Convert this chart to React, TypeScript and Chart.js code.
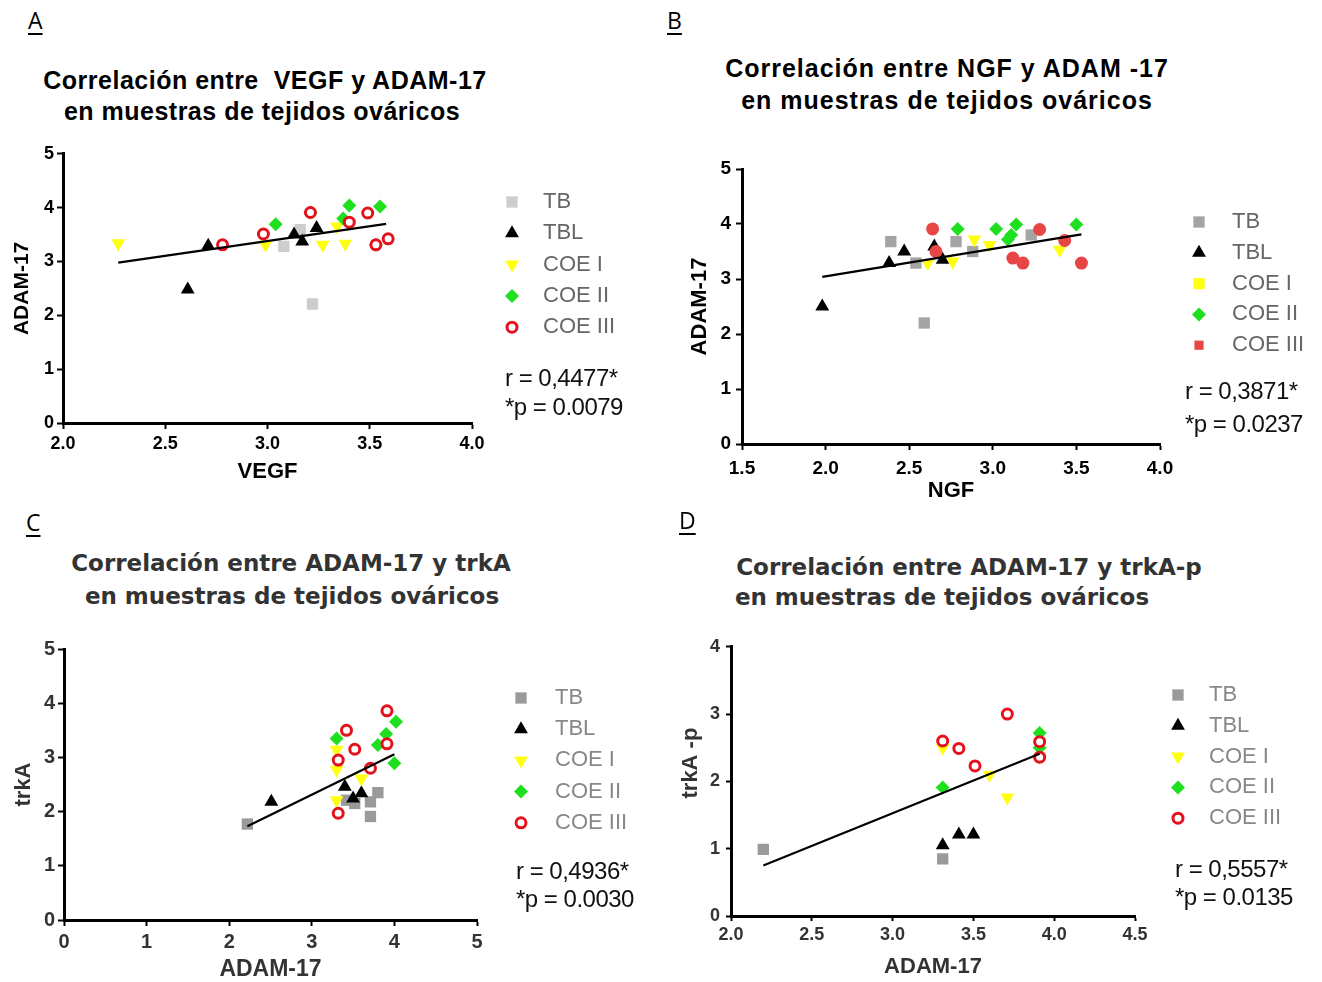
import React, { useEffect, useRef } from 'react';
import { Chart, registerables } from 'chart.js';
import { drawPoint } from 'chart.js/helpers';

Chart.register(...registerables);

type P = [number, number];

const groups = ['TB', 'TBL', 'COE I', 'COE II', 'COE III'];

// Panel A: VEGF vs ADAM-17
const aTB: P[] = [[3.08, 3.28], [3.16, 3.59], [3.22, 2.21]];
const aTBL: P[] = [[2.61, 2.48], [2.71, 3.29], [3.13, 3.5], [3.17, 3.37], [3.24, 3.62]];
const aCOE1: P[] = [[2.27, 3.34], [2.99, 3.31], [3.27, 3.31], [3.38, 3.33], [3.34, 3.65]];
const aCOE2: P[] = [[3.04, 3.69], [3.21, 3.91], [3.37, 3.8], [3.4, 4.04], [3.53, 3.31], [3.55, 4.02]];
const aCOE3: P[] = [[2.78, 3.31], [2.98, 3.51], [3.21, 3.91], [3.4, 3.73], [3.49, 3.9], [3.53, 3.31], [3.59, 3.42]];
const aFit: P[] = [[2.27, 2.98], [3.58, 3.7]];
const aXTicks = [2.0, 2.5, 3.0, 3.5, 4.0];
const aYTicks = [0, 1, 2, 3, 4, 5];

// Panel B: NGF vs ADAM-17
const bTB: P[] = [[2.39, 3.68], [2.54, 3.29], [2.59, 2.2], [2.78, 3.68], [2.88, 3.5], [3.23, 3.8]];
const bTBL: P[] = [[1.98, 2.5], [2.38, 3.29], [2.47, 3.5], [2.65, 3.59], [2.7, 3.35]];
const bCOE1: P[] = [[2.61, 3.29], [2.76, 3.32], [2.89, 3.72], [2.98, 3.62], [3.4, 3.53]];
const bCOE2: P[] = [[2.79, 3.91], [3.02, 3.91], [3.09, 3.72], [3.11, 3.8], [3.14, 3.99], [3.5, 3.99]];
const bCOE3: P[] = [[2.64, 3.91], [2.66, 3.5], [3.12, 3.38], [3.18, 3.29], [3.28, 3.9], [3.43, 3.7], [3.53, 3.29]];
const bFit: P[] = [[1.98, 3.04], [3.53, 3.81]];
const bXTicks = [1.5, 2.0, 2.5, 3.0, 3.5, 4.0];
const bYTicks = [0, 1, 2, 3, 4, 5];

// Panel C: ADAM-17 vs trkA
const cTB: P[] = [[2.22, 1.77], [3.42, 2.21], [3.52, 2.15], [3.71, 1.91], [3.71, 2.18], [3.8, 2.35]];
const cTBL: P[] = [[2.51, 2.18], [3.4, 2.46], [3.5, 2.24], [3.6, 2.34]];
const cCOE1: P[] = [[3.3, 3.14], [3.3, 2.77], [3.3, 2.21], [3.6, 2.61]];
const cCOE2: P[] = [[3.3, 3.35], [3.8, 3.23], [3.9, 3.43], [4.02, 3.66], [4.0, 2.89]];
const cCOE3: P[] = [[3.32, 2.95], [3.32, 1.97], [3.42, 3.5], [3.52, 3.15], [3.71, 2.8], [3.91, 3.86], [3.91, 3.25]];
const cFit: P[] = [[2.22, 1.73], [4.0, 3.06]];
const cXTicks = [0, 1, 2, 3, 4, 5];
const cYTicks = [0, 1, 2, 3, 4, 5];

// Panel D: ADAM-17 vs trkA-p
const dTB: P[] = [[2.2, 0.99], [3.31, 0.85]];
const dTBL: P[] = [[3.31, 1.05], [3.41, 1.21], [3.5, 1.21]];
const dCOE1: P[] = [[3.31, 2.5], [3.6, 2.1], [3.71, 1.76]];
const dCOE2: P[] = [[3.31, 1.91], [3.91, 2.72], [3.91, 2.5]];
const dCOE3: P[] = [[3.31, 2.6], [3.41, 2.49], [3.51, 2.23], [3.71, 3.0], [3.91, 2.59], [3.91, 2.36]];
const dFit: P[] = [[2.2, 0.75], [3.91, 2.41]];
const dXTicks = [2.0, 2.5, 3.0, 3.5, 4.0, 4.5];
const dYTicks = [0, 1, 2, 3, 4];

const rValues = ['0,4477', '0,3871', '0,4936', '0,5557'];
const pValues = ['0.0079', '0.0237', '0.0030', '0.0135'];

// ---------- styles ----------
const stylesAC = (gray: string) => [
  { style: 'rect', r: 8, fill: gray },
  { style: 'triangle', r: 8, fill: '#000000' },
  { style: 'triangle', rot: 180, r: 8, fill: '#ffff10' },
  { style: 'rectRot', r: 7, fill: '#1fe01f' },
  { style: 'circle', r: 5, fill: '#ffffff', stroke: '#e3121c', bw: 3 },
];
const stylesB = [
  { style: 'rect', r: 8, fill: '#a4a4a4' },
  { style: 'triangle', r: 8, fill: '#000000' },
  { style: 'triangle', rot: 180, r: 8, fill: '#ffff10', legend: { style: 'rect' } },
  { style: 'rectRot', r: 7, fill: '#1fe01f' },
  { style: 'circle', r: 6.5, fill: '#e84545', legend: { style: 'rect' } },
];

function buildSets(series: P[][], fit: P[], styles: any[]) {
  const sets: any[] = series.map((s, i) => ({
    label: groups[i],
    data: s.map(([x, y]) => ({ x, y })),
    pointStyle: styles[i].style,
    pointRotation: styles[i].rot || 0,
    pointRadius: styles[i].r,
    pointBorderWidth: styles[i].bw || 0,
    backgroundColor: styles[i].fill,
    borderColor: styles[i].stroke || styles[i].fill,
    showLine: false,
    order: 6 - i,
    inLegend: true,
    legendStyle: styles[i].legend,
  }));
  sets.push({
    label: 'fit',
    data: fit.map(([x, y]) => ({ x, y })),
    showLine: true,
    borderColor: '#000000',
    borderWidth: 2.2,
    pointRadius: 0,
    order: 1,
    inLegend: false,
  });
  return sets;
}

const panelLegend = {
  id: 'panelLegend',
  afterDraw(chart: any, _a: any, opts: any) {
    if (!opts || opts.markerX == null) return;
    const ctx = chart.ctx;
    ctx.save();
    const sets = chart.data.datasets.filter((d: any) => d.inLegend);
    sets.forEach((d: any, i: number) => {
      const y = opts.y0 + i * opts.dy;
      const ls = d.legendStyle || {};
      const bw = ls.bw ?? d.pointBorderWidth;
      ctx.fillStyle = ls.fill || d.backgroundColor;
      ctx.strokeStyle = d.borderColor;
      ctx.lineWidth = bw;
      drawPoint(
        ctx,
        {
          pointStyle: ls.style || d.pointStyle,
          rotation: ls.rot ?? d.pointRotation,
          radius: ls.r ?? d.pointRadius,
          borderWidth: bw,
        } as any,
        opts.markerX,
        y
      );
      ctx.fillStyle = opts.color;
      ctx.font = opts.font;
      ctx.textBaseline = 'middle';
      ctx.textAlign = 'left';
      ctx.fillText(d.label, opts.textX, y);
    });
    ctx.restore();
  },
};

function axis(o: any) {
  return {
    type: 'linear',
    min: o.min,
    max: o.max,
    afterBuildTicks: (s: any) => {
      s.ticks = o.ticks.map((v: number) => ({ value: v }));
    },
    afterFit: (s: any) => {
      if (o.horizontal) s.height = o.size;
      else s.width = o.size;
    },
    ticks: {
      callback: (v: any) => Number(v).toFixed(o.dec),
      font: { family: 'Liberation Sans', size: o.tickSize, weight: 'bold' },
      color: o.tickColor,
      padding: o.tickPad,
      maxRotation: 0,
      minRotation: 0,
      autoSkip: false,
    },
    grid: {
      drawOnChartArea: false,
      drawTicks: true,
      tickLength: o.tl,
      tickColor: '#000000',
      tickWidth: 2,
    },
    border: { display: true, color: '#000000', width: 3 },
    title: {
      display: true,
      text: o.title,
      font: { family: 'Liberation Sans', size: o.titleSize, weight: 'bold', lineHeight: o.titleLH || 1.2 },
      color: o.titleColor,
      padding: o.titlePad,
    },
  };
}

const panels: any[] = [
  {
    left: 0, top: 140, w: 660, h: 350, padTop: 12, padRight: 188,
    sets: buildSets([aTB, aTBL, aCOE1, aCOE2, aCOE3], aFit, stylesAC('#cdcdcd')),
    x: { horizontal: true, size: 67, min: 2, max: 4, ticks: aXTicks, dec: 1, tickSize: 18, tickColor: '#000', tickPad: 4, tl: 6, title: 'VEGF', titleSize: 22, titleColor: '#000', titlePad: { top: 0, bottom: 4.8 } },
    y: { horizontal: false, size: 63, min: 0, max: 5, ticks: aYTicks, dec: 0, tickSize: 18, tickColor: '#000', tickPad: 3, tl: 6, title: 'ADAM-17', titleSize: 21, titleColor: '#000', titlePad: { top: 9.4, bottom: 0 } },
    legend: { markerX: 512, textX: 543, y0: 202, dy: 31.3, color: '#666666' },
  },
  {
    left: 660, top: 140, w: 662, h: 370, padTop: 29, padRight: 162,
    sets: buildSets([bTB, bTBL, bCOE1, bCOE2, bCOE3], bFit, stylesB),
    x: { horizontal: true, size: 66, min: 1.5, max: 4, ticks: bXTicks, dec: 1, tickSize: 19, tickColor: '#000', tickPad: 7, tl: 6, title: 'NGF', titleSize: 22, titleColor: '#000', titlePad: { top: 0, bottom: 5.8 } },
    y: { horizontal: false, size: 82, min: 0, max: 5, ticks: bYTicks, dec: 0, tickSize: 19, tickColor: '#000', tickPad: 5, tl: 6, title: 'ADAM-17', titleSize: 22, titleColor: '#000', titlePad: { top: 26.8, bottom: 0 } },
    legend: { markerX: 1199, textX: 1232, y0: 222, dy: 30.8, color: '#666666' },
  },
  {
    left: 0, top: 630, w: 660, h: 352, padTop: 19, padRight: 183,
    sets: buildSets([cTB, cTBL, cCOE1, cCOE2, cCOE3], cFit, stylesAC('#9a9a9a')),
    x: { horizontal: true, size: 62, min: 0, max: 5, ticks: cXTicks, dec: 0, tickSize: 20, tickColor: '#333', tickPad: 4, tl: 6, title: 'ADAM-17', titleSize: 23, titleLH: 1, titleColor: '#333', titlePad: { top: 0, bottom: 0.5 } },
    y: { horizontal: false, size: 64, min: 0, max: 5, ticks: cYTicks, dec: 0, tickSize: 20, tickColor: '#333', tickPad: 3, tl: 6, title: 'trkA', titleSize: 22, titleColor: '#333', titlePad: { top: 10.3, bottom: 0 } },
    legend: { markerX: 521, textX: 555, y0: 698, dy: 31.2, color: '#888888' },
  },
  {
    left: 660, top: 630, w: 662, h: 352, padTop: 15, padRight: 187,
    sets: buildSets([dTB, dTBL, dCOE1, dCOE2, dCOE3], dFit, stylesAC('#9a9a9a')),
    x: { horizontal: true, size: 66, min: 2, max: 4.5, ticks: dXTicks, dec: 1, tickSize: 18, tickColor: '#333', tickPad: 3, tl: 5, title: 'ADAM-17', titleSize: 22, titleColor: '#333', titlePad: { top: 0, bottom: 1.8 } },
    y: { horizontal: false, size: 71, min: 0, max: 4, ticks: dYTicks, dec: 0, tickSize: 18, tickColor: '#333', tickPad: 6, tl: 5, title: '      trkA -p', titleSize: 22, titleColor: '#333', titlePad: { top: 17.8, bottom: 0 } },
    legend: { markerX: 1178, textX: 1209, y0: 695, dy: 30.8, color: '#888888' },
  },
];

function PanelChart({ cfg }: { cfg: any }) {
  const ref = useRef<HTMLCanvasElement>(null);
  useEffect(() => {
    const chart = new Chart(ref.current as HTMLCanvasElement, {
      type: 'scatter',
      data: { datasets: cfg.sets },
      plugins: [panelLegend as any],
      options: {
        animation: false,
        responsive: false,
        maintainAspectRatio: false,
        events: [],
        layout: { padding: { top: cfg.padTop, right: cfg.padRight, left: 0, bottom: 0 } },
        plugins: {
          legend: { display: false },
          tooltip: { enabled: false },
          panelLegend: {
            markerX: cfg.legend.markerX - cfg.left,
            textX: cfg.legend.textX - cfg.left,
            y0: cfg.legend.y0 - cfg.top,
            dy: cfg.legend.dy,
            color: cfg.legend.color,
            font: '22px "Liberation Sans", Arial, sans-serif',
          },
        } as any,
        scales: { x: axis(cfg.x) as any, y: axis(cfg.y) as any },
      },
    });
    return () => chart.destroy();
  }, []);
  return (
    <canvas
      ref={ref}
      width={cfg.w}
      height={cfg.h}
      style={{ position: 'absolute', left: cfg.left, top: cfg.top, width: cfg.w, height: cfg.h }}
    />
  );
}

const titleLines = [
  { text: 'Correlación entre  VEGF y ADAM-17', cx: 265, cy: 80, kind: 'ab', ls: 0.5 },
  { text: 'en muestras de tejidos ováricos', cx: 262, cy: 111, kind: 'ab', ls: 0.5 },
  { text: 'Correlación entre NGF y ADAM -17', cx: 947, cy: 68, kind: 'ab', ls: 1 },
  { text: 'en muestras de tejidos ováricos', cx: 947, cy: 100, kind: 'ab', ls: 1 },
  { text: 'Correlación entre ADAM-17 y trkA', cx: 291, cy: 563, kind: 'cd', ls: 0 },
  { text: 'en muestras de tejidos ováricos', cx: 292, cy: 596, kind: 'cd', ls: 0 },
  { text: 'Correlación entre ADAM-17 y trkA-p', cx: 969, cy: 567, kind: 'cd', ls: 0 },
  { text: 'en muestras de tejidos ováricos', cx: 942, cy: 597, kind: 'cd', ls: 0 },
];

const letters = [
  { t: 'A', x: 28, cy: 20 },
  { t: 'B', x: 667, cy: 20 },
  { t: 'C', x: 26, cy: 522 },
  { t: 'D', x: 679, cy: 520 },
];

const statPos = [
  { x: 505, y1: 378, y2: 407 },
  { x: 1185, y1: 391, y2: 424 },
  { x: 516, y1: 871, y2: 899 },
  { x: 1175, y1: 869, y2: 897 },
];

export default function App() {
  return (
    <div style={{ position: 'absolute', left: 0, top: 0, width: 1322, height: 982, background: '#fff', overflow: 'hidden' }}>
      {panels.map((p, i) => (
        <PanelChart key={i} cfg={p} />
      ))}
      {titleLines.map((l, i) => (
        <div
          key={'t' + i}
          style={{
            position: 'absolute',
            left: l.cx - 350,
            width: 700,
            top: l.cy - 15,
            height: 30,
            lineHeight: '30px',
            textAlign: 'center',
            whiteSpace: 'pre',
            fontFamily: l.kind === 'ab' ? '"Liberation Sans", Arial, sans-serif' : '"DejaVu Sans", Verdana, sans-serif',
            fontWeight: 'bold',
            fontSize: l.kind === 'ab' ? 25 : 23,
            letterSpacing: l.ls,
            color: l.kind === 'ab' ? '#000' : '#333',
          }}
        >
          {l.text}
        </div>
      ))}
      {letters.map((l, i) => (
        <div
          key={'l' + i}
          style={{
            position: 'absolute',
            left: l.x,
            top: l.cy - 15,
            height: 30,
            lineHeight: '30px',
            fontFamily: '"Open Sans", sans-serif',
            fontSize: 23,
            color: '#000',
            textDecoration: 'underline',
            textUnderlineOffset: '4px',
            textDecorationThickness: '1.5px',
          }}
        >
          {l.t}
        </div>
      ))}
      {statPos.map((s, i) => (
        <React.Fragment key={'s' + i}>
          <div style={{ position: 'absolute', left: s.x, top: s.y1 - 15, height: 30, lineHeight: '30px', fontFamily: '"Liberation Sans", Arial, sans-serif', fontSize: 24, letterSpacing: -0.5, color: '#111', whiteSpace: 'pre' }}>
            {'r = ' + rValues[i] + '*'}
          </div>
          <div style={{ position: 'absolute', left: s.x, top: s.y2 - 15, height: 30, lineHeight: '30px', fontFamily: '"Liberation Sans", Arial, sans-serif', fontSize: 24, letterSpacing: -0.5, color: '#111', whiteSpace: 'pre' }}>
            {'*p = ' + pValues[i]}
          </div>
        </React.Fragment>
      ))}
    </div>
  );
}
